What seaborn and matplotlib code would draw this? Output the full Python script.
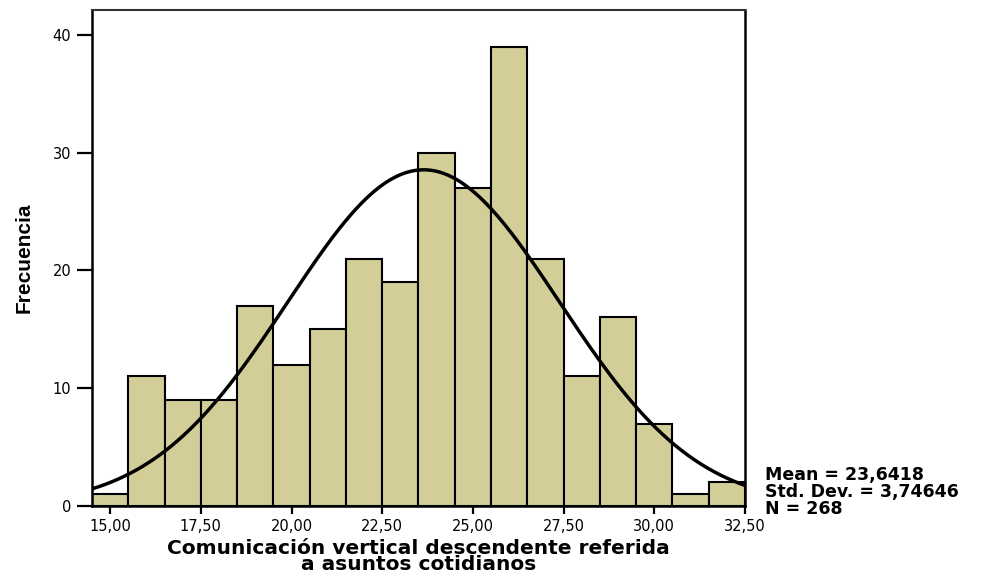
import numpy as np
import pandas as pd
import seaborn as sns
import matplotlib.pyplot as plt

# histogram counts (bins of width 1 from 14.5 to 32.5)
bin_start = 14.5
bin_end = 32.5
counts = [1, 11, 9, 9, 17, 12, 15, 21, 19, 30, 27, 39, 21, 11, 16, 7, 1, 2]
mean = 23.6418
std = 3.74646
n = 268
xticks = [15.0, 17.5, 20.0, 22.5, 25.0, 27.5, 30.0, 32.5]
yticks = [0, 10, 20, 30, 40]

sns.set_style("ticks")
plt.rcParams['font.family'] = ['DejaVu Sans']
plt.rcParams['text.color'] = 'black'
plt.rcParams['axes.labelcolor'] = 'black'
plt.rcParams['xtick.color'] = 'black'
plt.rcParams['ytick.color'] = 'black'

centers = bin_start + 0.5 + np.arange(len(counts))
data = pd.DataFrame({'x': centers, 'n': counts})

fig = plt.figure(figsize=(9.87, 5.75), dpi=100)
ax = fig.add_axes([0.0932, 0.12, 0.6616, 0.8626])

sns.histplot(data=data, x='x', weights='n', binwidth=1, binrange=(bin_start, bin_end),
             ax=ax, color='#d3ce98', alpha=1, edgecolor='black', linewidth=1.5)

# fitted normal curve
xs = np.linspace(bin_start, bin_end, 300)
ys = n * 1.0 * np.exp(-0.5 * ((xs - mean) / std) ** 2) / (std * np.sqrt(2 * np.pi))
sns.lineplot(x=xs, y=ys, ax=ax, color='black', linewidth=2.5)

ax.set_xlim(bin_start, bin_end)
ax.set_ylim(0, 42.1)
ax.set_xticks(xticks)
ax.set_xticklabels([f"{t:.2f}".replace('.', ',') for t in xticks], fontsize=10.5)
ax.set_yticks(yticks)
ax.set_yticklabels([str(t) for t in yticks], fontsize=10.5)
ax.tick_params(axis='x', direction='out', length=5.5, width=1.6, pad=4)
ax.tick_params(axis='y', direction='out', length=11, width=1.6, pad=4)

for side in ['left', 'bottom', 'right']:
    ax.spines[side].set_linewidth(1.8)
    ax.spines[side].set_color('black')
ax.spines['top'].set_linewidth(1.5)
ax.spines['top'].set_color('#333333')

ax.set_xlabel("Comunicación vertical descendente referida\na asuntos cotidianos",
              fontsize=14.5, fontweight='bold', linespacing=0.85)
ax.xaxis.set_label_coords(0.5, -0.066)
ax.set_ylabel("Frecuencia", fontsize=15, fontweight='bold',
              family=['Liberation Sans Narrow', 'Liberation Sans'])
ax.yaxis.set_label_coords(-0.09, 0.5)

stats = ["Mean = " + f"{mean:.4f}".replace('.', ','),
         "Std. Dev. = " + f"{std:.5f}".replace('.', ','),
         "N = " + str(n)]
for i, s in enumerate(stats):
    ax.text(1.03, 0.0625 - i * 0.034, s, transform=ax.transAxes,
            fontsize=12.5, fontweight='bold', va='center', ha='left')

fig.savefig('out.png', dpi=100)
